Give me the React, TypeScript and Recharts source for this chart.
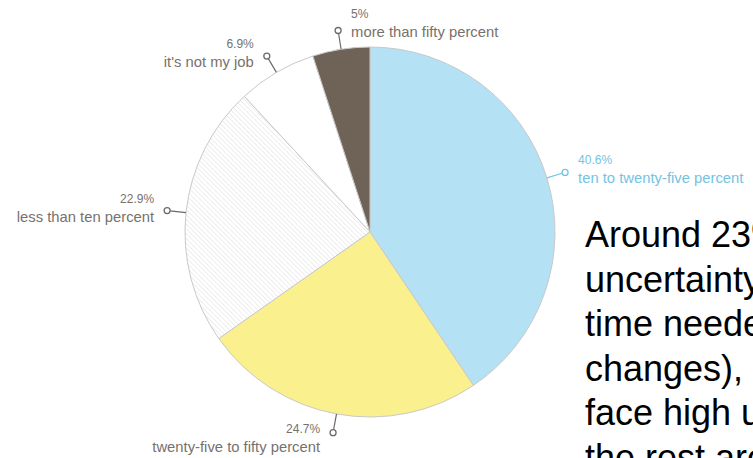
import React from "react";
import { PieChart, Pie, Cell } from "recharts";

const categories = [
  "ten to twenty-five percent",
  "twenty-five to fifty percent",
  "less than ten percent",
  "it's not my job",
  "more than fifty percent",
];
const values = [40.6, 24.7, 22.9, 6.9, 5];
const percentLabels = ["40.6%", "24.7%", "22.9%", "6.9%", "5%"];
const noteLines = [
  "Around 23%",
  "uncertainty",
  "time needed",
  "changes),",
  "face high uncertainty",
  "the rest are",
];

const fills = ["#b4e1f4", "#fbf08e", "url(#hatch)", "#ffffff", "#6f6357"];
const textColors = ["#74c3e2", "#77716c", "#77716c", "#77716c", "#77716c"];
const lineColors = ["#74c3e2", "#6f6a66", "#6f6a66", "#6f6a66", "#6f6a66"];
const anchors = ["start", "end", "end", "end", "start"];
const vShift = [0, 8, 0, 0, -5];

const data = categories.map((name, i) => ({ name, value: values[i], pct: percentLabels[i] }));

const LABEL_FONT = "'Liberation Sans', Arial, Helvetica, sans-serif";

const renderLabel = (props: any) => {
  const { cx, cy, midAngle, outerRadius, index } = props;
  const rad = Math.PI / 180;
  const c = Math.cos(-midAngle * rad);
  const s = Math.sin(-midAngle * rad);
  const sx = cx + outerRadius * c;
  const sy = cy + outerRadius * s;
  const rc = outerRadius + 19;
  const ccx = cx + rc * c;
  const ccy = cy + rc * s;
  const ex = cx + (rc - 3) * c;
  const ey = cy + (rc - 3) * s;
  const anchor = anchors[index];
  const tx = anchor === "start" ? ccx + 13 : ccx - 13;
  const dv = vShift[index];
  return (
    <g key={`lbl-${index}`}>
      <line x1={sx} y1={sy} x2={ex} y2={ey} stroke={lineColors[index]} strokeWidth={1.2} />
      <circle cx={ccx} cy={ccy} r={3} fill="#fff" stroke={lineColors[index]} strokeWidth={1.3} />
      <text
        x={tx}
        y={ccy - 8 + dv}
        textAnchor={anchor}
        fontFamily={LABEL_FONT}
        fontSize={12}
        fill={textColors[index]}
      >
        {data[index].pct}
      </text>
      <text
        x={tx}
        y={ccy + 11 + dv}
        textAnchor={anchor}
        fontFamily={LABEL_FONT}
        fontSize={14.8}
        fill={textColors[index]}
      >
        {data[index].name}
      </text>
    </g>
  );
};

export default function App() {
  return (
    <div
      style={{
        position: "absolute",
        left: 0,
        top: 0,
        width: 753,
        height: 458,
        overflow: "hidden",
        background: "#ffffff",
      }}
    >
      <svg width={0} height={0} style={{ position: "absolute" }}>
        <defs>
          <pattern
            id="hatch"
            patternUnits="userSpaceOnUse"
            width={3.4}
            height={3.4}
            patternTransform="rotate(-45)"
          >
            <rect width={3.4} height={3.4} fill="#ffffff" />
            <line x1={0} y1={0} x2={0} y2={3.4} stroke="#d9d9d9" strokeWidth={0.9} />
          </pattern>
        </defs>
      </svg>
      <PieChart
        width={753}
        height={458}
        margin={{ top: 0, right: 0, bottom: 0, left: 0 }}
        style={{ position: "absolute", left: 0, top: 0 }}
      >
        <Pie
          data={data}
          dataKey="value"
          nameKey="name"
          cx={370}
          cy={232}
          outerRadius={185}
          startAngle={90}
          endAngle={-270}
          stroke="#c9c9c9"
          strokeWidth={1}
          label={renderLabel}
          labelLine={false}
          isAnimationActive={false}
        >
          {data.map((d, i) => (
            <Cell key={d.name} fill={fills[i]} />
          ))}
        </Pie>
      </PieChart>
      <svg
        width={753}
        height={458}
        style={{ position: "absolute", left: 0, top: 0, pointerEvents: "none" }}
      >
        {noteLines.map((t, i) => (
          <text
            key={t}
            x={585}
            y={247 + i * 44.5}
            fontFamily="'Liberation Sans', Arial, Helvetica, sans-serif"
            fontSize={36}
            fill="#000000"
          >
            {t}
          </text>
        ))}
      </svg>
    </div>
  );
}
